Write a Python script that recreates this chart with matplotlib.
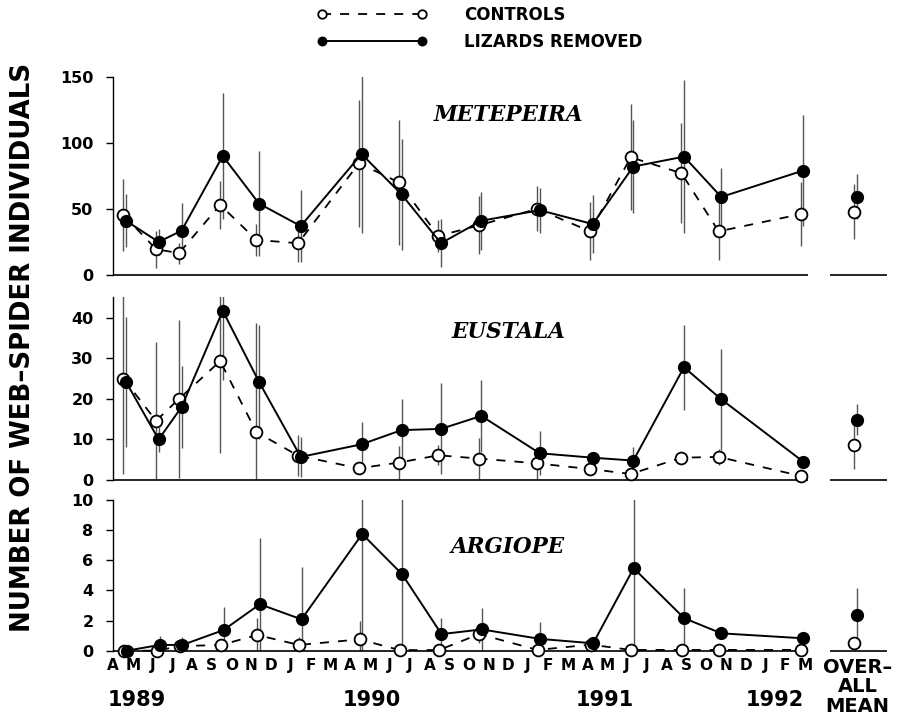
import numpy as np
import matplotlib
matplotlib.use('Agg')
import matplotlib.pyplot as plt
from matplotlib.transforms import blended_transform_factory

# sampling times, in months after April 1989
sample_month = [0.64, 2.29, 3.45, 5.53, 7.36, 9.47, 12.54, 14.56, 16.55,
                18.59, 21.54, 24.22, 26.27, 28.83, 30.71, 34.86]
mean_month = 37.56

month_letters = list('AMJJASONDJFM' * 3)
years = ['1989', '1990', '1991', '1992']
year_month = [1.2, 13.1, 24.9, 33.5]

# Metepeira
met_removed = [41, 25, 33.5, 90, 54, 37, 91.5, 61, 24, 41, 49, 38.5, 82, 89.5, 59, 79]
met_removed_err = [20, 10, 21, 48, 40, 27, 60, 42, 18, 22, 17, 22, 35, 58, 22, 42]
met_control = [45.5, 19.5, 16.5, 53, 26.5, 24, 84.5, 70, 29.5, 37.5, 50, 33, 89, 77, 33, 46]
met_control_err = [27, 14, 8, 18, 12, 14, 48, 47, 12, 22, 17, 22, 40, 38, 22, 24]
met_mean = [59, 48]
met_mean_err = [17, 21]

# Eustala
eus_removed = [24.2, 10, 18, 41.7, 24.2, 5.7, 8.8, 12.3, 12.6, 15.8, 6.6, 5.5, 4.8, 27.8, 19.9, 4.5]
eus_removed_err = [16, 3, 10, 17, 14, 5, 5.6, 7.6, 11.2, 8.8, 5.4, 1, 3.4, 10.5, 12.5, 0.5]
eus_control = [25, 14.6, 20, 29.3, 11.8, 6, 2.9, 4.3, 6.1, 5.3, 4.1, 2.7, 1.5, 5.5, 5.7, 1]
eus_control_err = [23.4, 19.4, 19.5, 22.7, 27, 5, 1, 4, 2.5, 5, 4, 1, 1, 1, 2, 0.5]
eus_mean = [14.9, 8.6]
eus_mean_err = [3.8, 6]

# Argiope
arg_removed = [0, 0.38, 0.38, 1.37, 3.08, 2.08, 7.74, 5.07, 1.1, 1.41, 0.78, 0.49, 5.47, 2.15, 1.15, 0.82]
arg_removed_err = [0, 0.6, 0.5, 1.5, 4.4, 3.45, 8, 6, 1.05, 1.4, 1.15, 0.3, 5.5, 2, 0, 0.3]
arg_control = [0, 0, 0.3, 0.38, 1.04, 0.38, 0.75, 0.04, 0.04, 1.1, 0.05, 0.4, 0.05, 0.05, 0.05, 0.05]
arg_control_err = [0, 0, 0, 0.4, 1.1, 0.5, 1.2, 0, 0, 0.6, 0, 0, 0, 0, 0, 0]
arg_mean = [2.37, 0.49]
arg_mean_err = [1.77, 0]

panels = [
    ('METEPEIRA', met_removed, met_removed_err, met_control, met_control_err, met_mean, met_mean_err,
     [0, 50, 100, 150], 150, [0.1243, 0.6165, 0.8526, 0.2766], 0.807),
    ('EUSTALA', eus_removed, eus_removed_err, eus_control, eus_control_err, eus_mean, eus_mean_err,
     [0, 10, 20, 30, 40], 45, [0.1243, 0.3305, 0.8526, 0.2547], 0.81),
    ('ARGIOPE', arg_removed, arg_removed_err, arg_control, arg_control_err, arg_mean, arg_mean_err,
     [0, 2, 4, 6, 8, 10], 10, [0.1243, 0.0925, 0.8526, 0.2102], 0.688),
]

plt.rcParams['font.family'] = 'DejaVu Sans'
plt.rcParams['font.weight'] = 'bold'

fig = plt.figure(figsize=(9.09, 7.17), dpi=100)

shift = 0.065
xs = np.array(sample_month)
errc = '#555555'
axes = []
for name, rem, rem_err, con, con_err, mean, mean_err, yticks, ytop, rect, label_y in panels:
    ax = fig.add_axes(rect)
    axes.append(ax)
    ax.set_xlim(0.05, 39.2)
    ax.set_ylim(0, ytop)

    # error bars (clipped at the axis limits)
    ax.vlines(xs - shift, np.array(con) - np.array(con_err), np.array(con) + np.array(con_err),
              colors=errc, lw=1.0, zorder=1)
    ax.vlines(xs + shift, np.array(rem) - np.array(rem_err), np.array(rem) + np.array(rem_err),
              colors=errc, lw=1.0, zorder=1)
    ax.vlines([mean_month + shift, mean_month - shift],
              [mean[0] - mean_err[0], mean[1] - mean_err[1]],
              [mean[0] + mean_err[0], mean[1] + mean_err[1]], colors=errc, lw=1.0, zorder=1)

    ax.plot(xs - shift, con, color='black', lw=1.3, ls=(0, (5, 5)), marker='o', ms=8.5,
            mfc='white', mec='black', mew=1.3, clip_on=False, zorder=3, label='CONTROLS')
    ax.plot(xs + shift, rem, color='black', lw=1.4, marker='o', ms=8.5,
            mfc='black', mec='black', clip_on=False, zorder=4, label='LIZARDS REMOVED')
    ax.plot([mean_month - shift], [mean[1]], ls='none', marker='o', ms=8.5,
            mfc='white', mec='black', mew=1.3, clip_on=False, zorder=3)
    ax.plot([mean_month + shift], [mean[0]], ls='none', marker='o', ms=8.5,
            mfc='black', mec='black', clip_on=False, zorder=4)

    # baselines: sampling period and overall-mean column
    ax.hlines(0, 0.05, 35.16, colors='black', lw=1.2, zorder=2, clip_on=False)
    ax.hlines(0, 36.27, 39.14, colors='black', lw=1.2, zorder=2, clip_on=False)

    for side in ['top', 'right', 'bottom']:
        ax.spines[side].set_visible(False)
    ax.spines['left'].set_linewidth(1.0)
    ax.set_yticks(yticks)
    ax.tick_params(axis='y', direction='out', length=5, width=1, pad=9, labelsize=11.5)
    ax.set_xticks([])

    ax.text(0.51, label_y, name, transform=ax.transAxes, ha='center', va='center',
            family='DejaVu Serif', style='italic', weight='bold', fontsize=15.5)

# month letters and years along the bottom panel
ax = axes[-1]
ax.set_xticks(np.arange(len(month_letters)))
ax.set_xticklabels(month_letters, fontsize=11, fontweight='bold')
ax.tick_params(axis='x', length=0, pad=5)
tr = blended_transform_factory(ax.transData, fig.transFigure)
for yr, m in zip(years, year_month):
    ax.text(m, 0.024, yr, transform=tr, ha='center', va='center', fontsize=15, fontweight='bold')
ax.text(mean_month + 0.1, 0.042, 'OVER\u2013\nALL\nMEAN', transform=tr, ha='center', va='center',
        fontsize=14, fontweight='bold', linespacing=1.05, multialignment='center')

fig.text(0.025, 0.515, 'NUMBER OF WEB\u2013SPIDER INDIVIDUALS', rotation=90, ha='center',
         va='center', fontsize=18.7, fontweight='bold')

h, l = axes[0].get_legend_handles_labels()
fig.legend(h, l, loc='upper left', bbox_to_anchor=(0.34, 1.003), frameon=False, numpoints=2,
           handlelength=6.6, handletextpad=2.2, labelspacing=0.5, borderpad=0, markerscale=0.72,
           prop={'size': 12, 'weight': 'bold'})

fig.savefig('out.png', dpi=100)
